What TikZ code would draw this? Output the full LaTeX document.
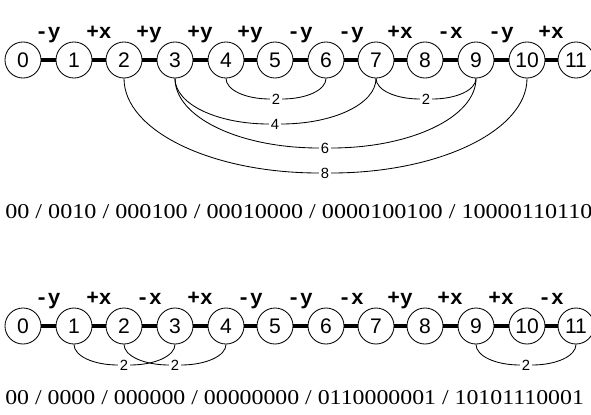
\documentclass[tikz,border=0pt]{standalone}
\usepackage{fontspec}
\setmainfont{Liberation Serif}
\setsansfont{Liberation Sans}
\setmonofont{Liberation Mono}

\tikzset{
  residue/.style={circle, draw, line width=0.6pt, minimum size=0.9cm, inner sep=0pt, font=\sffamily\fontsize{15}{15}\selectfont},
  bond/.style={line width=2.4pt},
  move/.style={anchor=base, inner sep=0pt, font=\ttfamily\bfseries\fontsize{15}{15}\selectfont},
  contact/.style={line width=0.6pt},
  down/.style 2 args={out=-90, in=180, out distance=#1, in distance=#2},
  up/.style 2 args={out=0, in=-90, out distance=#2, in distance=#1},
  weight/.style={inner sep=1.2pt, font=\sffamily\fontsize{10.5}{10.5}\selectfont},
  code/.style={anchor=base west, inner sep=0pt, font=\fontsize{15}{15}\selectfont}
}

\begin{document}
\begin{tikzpicture}[x=0.025cm, y=-0.025cm]
  \useasboundingbox (0,0) rectangle (591,414);
  \clip (0,0) rectangle (591,414);
  % Upper chain
  \node (t0) [residue] at (23, 60) {0};
  \node (t1) [residue] at (74, 60) {1};
  \node (t2) [residue] at (124, 60) {2};
  \node (t3) [residue] at (175, 60) {3};
  \node (t4) [residue] at (226, 60) {4};
  \node (t5) [residue] at (275, 60) {5};
  \node (t6) [residue] at (326, 60) {6};
  \node (t7) [residue] at (376, 60) {7};
  \node (t8) [residue] at (425, 60) {8};
  \node (t9) [residue] at (476, 60) {9};
  \node (t10) [residue] at (527, 60) {10};
  \node (t11) [residue] at (576, 60) {11};
  % Upper moves
  \node (tm1) [move] at (48, 38) {-y};
  \node (tm2) [move] at (99, 38) {+x};
  \node (tm3) [move] at (149, 38) {+y};
  \node (tm4) [move] at (200, 38) {+y};
  \node (tm5) [move] at (250, 38) {+y};
  \node (tm6) [move] at (300, 38) {-y};
  \node (tm7) [move] at (351, 38) {-y};
  \node (tm8) [move] at (400, 38) {+x};
  \node (tm9) [move] at (450, 38) {-x};
  \node (tm10) [move] at (501, 38) {-y};
  \node (tm11) [move] at (551, 38) {+x};
  % Upper contact weights
  \node (tw1) [weight] at (276, 99) {2};
  \node (tw2) [weight] at (426, 99) {2};
  \node (tw3) [weight] at (275, 124) {4};
  \node (tw4) [weight] at (325, 148) {6};
  \node (tw5) [weight] at (325, 173) {8};
  \node (tcode) [code] at (5, 218) {\scalebox{1.145}[1]{00 / 0010 / 000100 / 00010000 / 0000100100 / 10000110110}};
  % Lower chain
  \node (b0) [residue] at (23, 326) {0};
  \node (b1) [residue] at (74, 326) {1};
  \node (b2) [residue] at (124, 326) {2};
  \node (b3) [residue] at (175, 326) {3};
  \node (b4) [residue] at (226, 326) {4};
  \node (b5) [residue] at (275, 326) {5};
  \node (b6) [residue] at (326, 326) {6};
  \node (b7) [residue] at (376, 326) {7};
  \node (b8) [residue] at (425, 326) {8};
  \node (b9) [residue] at (476, 326) {9};
  \node (b10) [residue] at (527, 326) {10};
  \node (b11) [residue] at (576, 326) {11};
  % Lower moves
  \node (bm1) [move] at (48, 304) {-y};
  \node (bm2) [move] at (99, 304) {+x};
  \node (bm3) [move] at (149, 304) {-x};
  \node (bm4) [move] at (200, 304) {+x};
  \node (bm5) [move] at (250, 304) {-y};
  \node (bm6) [move] at (300, 304) {-y};
  \node (bm7) [move] at (351, 304) {-x};
  \node (bm8) [move] at (400, 304) {+y};
  \node (bm9) [move] at (450, 304) {+x};
  \node (bm10) [move] at (501, 304) {+x};
  \node (bm11) [move] at (551, 304) {-x};
  % Lower contact weights
  \node (bw1) [weight] at (124, 365) {2};
  \node (bw2) [weight] at (175, 365) {2};
  \node (bw3) [weight] at (526, 365) {2};
  \node (bcode) [code] at (5, 404) {\scalebox{1.13}[1]{00 / 0000 / 000000 / 00000000 / 0110000001 / 10101110001}};
  % Bonds
  \draw[bond] (t0) -- (t1) -- (t2) -- (t3) -- (t4) -- (t5) -- (t6) -- (t7) -- (t8) -- (t9) -- (t10) -- (t11);
  \draw[bond] (b0) -- (b1) -- (b2) -- (b3) -- (b4) -- (b5) -- (b6) -- (b7) -- (b8) -- (b9) -- (b10) -- (b11);
  % Contacts (quarter ellipses)
  \draw[contact] (t4.south) to[down={0.29cm}{0.61cm}] (tw1) to[up={0.29cm}{0.61cm}] (t6.south);
  \draw[contact] (t7.south) to[down={0.29cm}{0.61cm}] (tw2) to[up={0.29cm}{0.61cm}] (t9.south);
  \draw[contact] (t3.south) to[down={0.64cm}{1.3cm}] (tw3) to[up={0.64cm}{1.3cm}] (t7.south);
  \draw[contact] (t3.south) to[down={0.97cm}{1.99cm}] (tw4) to[up={0.97cm}{1.99cm}] (t9.south);
  \draw[contact] (t2.south) to[down={1.31cm}{2.68cm}] (tw5) to[up={1.31cm}{2.68cm}] (t10.south);
  \draw[contact] (b1.south) to[down={0.29cm}{0.61cm}] (bw1) to[up={0.29cm}{0.61cm}] (b3.south);
  \draw[contact] (b2.south) to[down={0.29cm}{0.61cm}] (bw2) to[up={0.29cm}{0.61cm}] (b4.south);
  \draw[contact] (b9.south) to[down={0.29cm}{0.61cm}] (bw3) to[up={0.29cm}{0.61cm}] (b11.south);
\end{tikzpicture}
\end{document}
